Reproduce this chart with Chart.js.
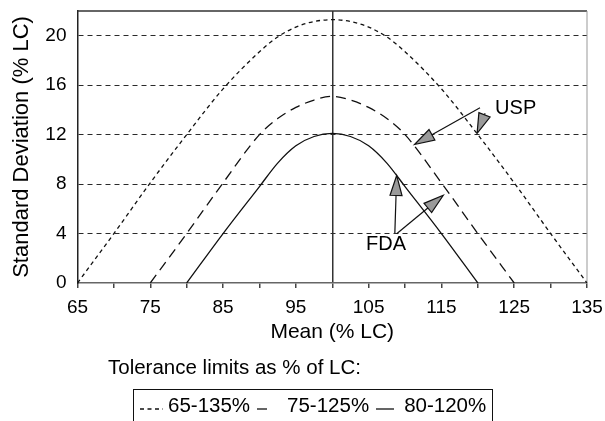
<!DOCTYPE html>
<html>
<head>
<meta charset="utf-8">
<title>Tolerance limits</title>
<script src="https://cdn.jsdelivr.net/npm/chart.js@4.4.1/dist/chart.umd.min.js"></script>
<style>
  html, body { margin: 0; padding: 0; background: #fff; }
  #wrap { position: relative; width: 605px; height: 421px; overflow: hidden;
          font-family: "Liberation Sans", Arial, sans-serif; color: #000; }
  #wrap canvas { position: absolute; left: 0; top: 0; }
  #legendTitle { position: absolute; left: 108px; top: 355px; font-size: 20.5px;
                 line-height: 24px; white-space: nowrap; }
  #legendBox { position: absolute; left: 133px; top: 389px; width: 360px; height: 40px;
               border: 1.5px solid #111; box-sizing: border-box; display: flex;
               align-items: center; padding: 0 0 8px 6px; font-size: 20.5px; white-space: nowrap; }
  #legendBox .item { display: flex; align-items: center; }
  #legendBox svg { margin-top: 8px; }
</style>
</head>
<body>
<div id="wrap">
  <canvas id="chart" width="605" height="421"></canvas>
  <div id="legendTitle">Tolerance limits as % of LC:</div>
  <div id="legendBox"></div>
</div>
<script>
// SD limit curves, one pair of arrays per tolerance range
const seriesLabels = ['65-135%', '75-125%', '80-120%'];

const meanWide = [65, 70, 75, 80, 85, 90, 92.5, 95, 97.5, 100, 102.5, 105, 107.5, 110, 115, 120, 125, 130, 135];
const sdWide   = [0, 4.0, 8.1, 12.0, 15.7, 18.7, 19.9, 20.7, 21.15, 21.3, 21.15, 20.7, 19.9, 18.7, 15.7, 12.0, 8.1, 4.0, 0];

const meanMid = [75, 80, 85, 90, 92.5, 95, 97.5, 100, 102.5, 105, 107.5, 110, 115, 120, 125];
const sdMid   = [0, 4.0, 8.1, 12.0, 13.3, 14.2, 14.8, 15.1, 14.8, 14.2, 13.3, 12.0, 8.1, 4.0, 0];

const meanNarrow = [80, 85, 90, 92.5, 95, 97.5, 100, 102.5, 105, 107.5, 110, 115, 120];
const sdNarrow   = [0, 4.0, 7.8, 9.7, 11.1, 11.85, 12.1, 11.85, 11.1, 9.7, 7.8, 4.0, 0];

const xTickMarks = [65, 70, 75, 80, 85, 90, 95, 100, 105, 110, 115, 120, 125, 130, 135];
const xTickLabels = [65, 75, 85, 95, 105, 115, 125, 135];
const yTicks = [0, 4, 8, 12, 16, 20];

// callouts, in data units (mean, sd)
const notes = [
  { text: 'USP', x: 125.2, y: 14.15 },
  { text: 'FDA', x: 107.4, y: 3.1 }
];
const arrows = [
  { from: [120.3, 14.17], to: [111.3, 11.2] },
  { from: [121.0, 13.73], to: [119.9, 12.1] },
  { from: [108.6, 4.04], to: [108.85, 8.7] },
  { from: [108.85, 3.99], to: [115.25, 7.1] }
];

const dashes = [[4, 3.5], [10, 6], []];
const curves = [[meanWide, sdWide], [meanMid, sdMid], [meanNarrow, sdNarrow]];

// legend swatch sizing (px)
const swatchW = [23, 13, 18];
const swatchGap = [5, 17, 10];
const itemGap = [0, 7, 7];

const font = '"Liberation Sans", Arial, sans-serif';
const toPoints = (xs, ys) => xs.map((x, i) => ({ x: x, y: ys[i] }));

const frame = {
  id: 'frame',
  beforeDatasetsDraw(chart) {
    const { ctx, chartArea: a } = chart;
    ctx.save();
    ctx.lineWidth = 1.5;
    ctx.strokeStyle = '#333';
    ctx.beginPath();
    ctx.moveTo(a.left, a.top);
    ctx.lineTo(a.right, a.top);
    ctx.stroke();
    ctx.strokeStyle = '#999';
    ctx.lineWidth = 1;
    ctx.beginPath();
    ctx.moveTo(a.right, a.top);
    ctx.lineTo(a.right, a.bottom);
    ctx.stroke();
    ctx.restore();
  }
};

const callouts = {
  id: 'callouts',
  afterDatasetsDraw(chart) {
    const { ctx, scales: { x, y } } = chart;
    ctx.save();
    arrows.forEach(a => {
      const x1 = x.getPixelForValue(a.from[0]), y1 = y.getPixelForValue(a.from[1]);
      const x2 = x.getPixelForValue(a.to[0]), y2 = y.getPixelForValue(a.to[1]);
      const ang = Math.atan2(y2 - y1, x2 - x1);
      const len = 20, half = 6;
      const bx = x2 - len * Math.cos(ang), by = y2 - len * Math.sin(ang);
      ctx.strokeStyle = '#111';
      ctx.lineWidth = 1.2;
      ctx.beginPath();
      ctx.moveTo(x1, y1);
      ctx.lineTo(bx, by);
      ctx.stroke();
      ctx.beginPath();
      ctx.moveTo(x2, y2);
      ctx.lineTo(bx + half * Math.sin(ang), by - half * Math.cos(ang));
      ctx.lineTo(bx - half * Math.sin(ang), by + half * Math.cos(ang));
      ctx.closePath();
      ctx.fillStyle = '#9a9a9a';
      ctx.fill();
      ctx.stroke();
    });
    ctx.fillStyle = '#000';
    ctx.font = '20px ' + font;
    ctx.textAlign = 'center';
    ctx.textBaseline = 'middle';
    notes.forEach(n => ctx.fillText(n.text, x.getPixelForValue(n.x), y.getPixelForValue(n.y)));
    ctx.restore();
  }
};

const chart = new Chart(document.getElementById('chart'), {
  type: 'line',
  data: {
    datasets: curves.map((c, i) => ({
      label: seriesLabels[i],
      data: toPoints(c[0], c[1]),
      borderColor: '#111',
      borderWidth: 1.3,
      borderDash: dashes[i],
      pointRadius: 0,
      fill: false,
      cubicInterpolationMode: 'monotone'
    }))
  },
  options: {
    responsive: false,
    animation: false,
    devicePixelRatio: 1,
    layout: { padding: { left: 9, top: 11, right: 18, bottom: 76 } },
    plugins: { legend: { display: false }, tooltip: { enabled: false } },
    scales: {
      x: {
        type: 'linear',
        min: 65,
        max: 135,
        afterBuildTicks: s => { s.ticks = xTickMarks.map(v => ({ value: v })); },
        afterFit: s => { s.paddingLeft = 0; s.paddingRight = 0; },
        ticks: {
          autoSkip: false,
          maxRotation: 0,
          padding: 8,
          color: '#000',
          font: { family: font, size: 19 },
          callback: v => xTickLabels.includes(v) ? String(v) : ''
        },
        grid: {
          color: c => (c.tick && c.tick.value === 100) ? '#333' : 'rgba(0,0,0,0)',
          lineWidth: 1.5,
          tickColor: '#444',
          tickLength: 5
        },
        border: { color: '#666', width: 1.5 },
        title: {
          display: true,
          text: 'Mean (% LC)',
          color: '#000',
          font: { family: font, size: 21 },
          padding: { top: -7, bottom: 0 }
        }
      },
      y: {
        min: 0,
        max: 22,
        afterBuildTicks: s => { s.ticks = yTicks.map(v => ({ value: v })); },
        afterFit: s => { s.width = 68.5; s.paddingTop = 0; s.paddingBottom = 0; },
        ticks: {
          padding: 11,
          color: '#000',
          font: { family: font, size: 19 }
        },
        grid: {
          drawTicks: false,
          color: c => (c.tick && c.tick.value > 0) ? '#2a2a2a' : 'rgba(0,0,0,0)',
          lineWidth: 1
        },
        border: { color: '#222', width: 1.5, dash: [5, 4] },
        title: {
          display: true,
          text: 'Standard Deviation (% LC)',
          color: '#000',
          font: { family: font, size: 22 },
          padding: { top: 0, bottom: 0 }
        }
      }
    }
  },
  plugins: [frame, callouts]
});

// legend row built from the same series
const box = document.getElementById('legendBox');
chart.data.datasets.forEach((d, i) => {
  const item = document.createElement('div');
  item.className = 'item';
  item.style.marginLeft = itemGap[i] + 'px';
  const w = swatchW[i];
  item.innerHTML = '<svg width="' + w + '" height="12" style="margin-right:' + swatchGap[i] + 'px">' +
    '<line x1="0" y1="6" x2="' + w + '" y2="6" stroke="#111" stroke-width="1.3" stroke-dasharray="' +
    (dashes[i].length ? dashes[i].join(' ') : 'none') + '"/></svg><span>' + d.label + '</span>';
  box.appendChild(item);
});
</script>
</body>
</html>
